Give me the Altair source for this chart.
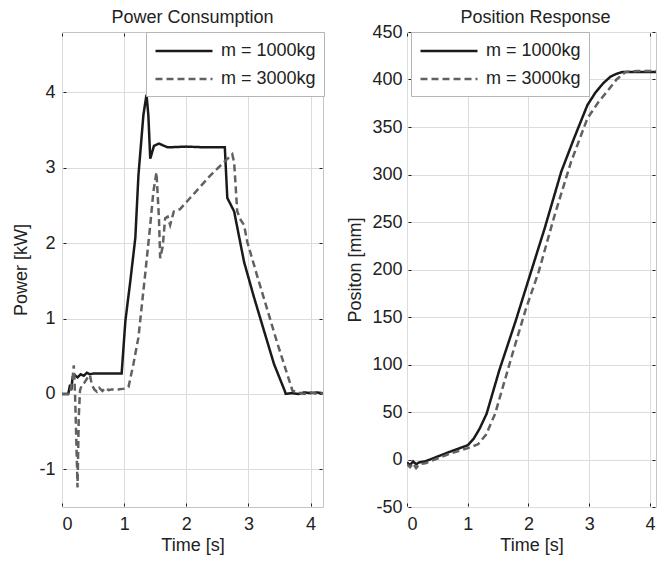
import altair as alt
import pandas as pd

# ---------------- data ----------------
p1_t = [0, 0.1, 0.13, 0.15, 0.17, 0.2, 0.25, 0.3, 0.35, 0.4, 0.45, 0.5, 0.96, 1.02, 1.1, 1.18,
        1.23, 1.31, 1.36, 1.39, 1.42, 1.48, 1.56, 1.7, 2.0, 2.3, 2.62, 2.66, 2.77, 2.93, 3.09,
        3.25, 3.41, 3.58, 3.6, 3.7, 3.8, 3.9, 4.0, 4.1, 4.2]
p1_v = [0, 0, 0.12, 0.05, 0.22, 0.25, 0.22, 0.26, 0.24, 0.28, 0.26, 0.27, 0.27, 0.97, 1.5, 2.07,
        2.9, 3.7, 3.97, 3.69, 3.12, 3.29, 3.32, 3.27, 3.28, 3.27, 3.27, 2.6, 2.42, 1.75, 1.28,
        0.84, 0.4, 0.05, 0.0, 0.01, 0.0, 0.02, 0.01, 0.02, 0.01]

p3_t = [0, 0.12, 0.15, 0.17, 0.19, 0.21, 0.23, 0.25, 0.27, 0.29, 0.32, 0.36, 0.4, 0.45, 0.48,
        0.52, 0.56, 0.6, 0.65, 0.7, 0.75, 0.8, 0.9, 1.0, 1.07, 1.15, 1.23, 1.34, 1.42, 1.47, 1.52,
        1.56, 1.58, 1.62, 1.66, 1.7, 1.74, 1.8, 1.9, 2.39, 2.74, 2.77, 2.82, 2.88, 2.93, 2.98,
        3.15, 3.47, 3.71, 3.8, 3.9, 4.0, 4.1, 4.2]
p3_v = [0, 0, 0.1, 0.2, 0.38, 0.0, -0.6, -1.24, -0.3, 0.05, 0.12, 0.15, 0.2, 0.25, 0.12,
        0.06, 0.03, 0.08, 0.04, 0.08, 0.05, 0.06, 0.06, 0.07, 0.09, 0.4, 0.75, 1.6, 2.24, 2.68, 2.94,
        2.33, 1.8, 1.95, 2.33, 2.35, 2.24, 2.42, 2.45, 2.9, 3.18, 3.07, 2.42, 2.3, 2.24, 2.02,
        1.54, 0.66, 0.04, 0.02, 0.0, 0.02, 0.0, 0.01]

x1_t = [0, 0.05, 0.1, 0.15, 0.2, 0.3, 0.5, 0.7, 1.0, 1.1, 1.2, 1.31, 1.52, 1.79, 2.0, 2.27,
        2.54, 2.75, 2.97, 3.1, 3.23, 3.35, 3.45, 3.55, 3.8, 4.0, 4.2]
x1_v = [-3, -6, -2, -5, -3, -2, 3, 8, 15, 22, 33, 48, 94, 146, 189, 244, 303, 338, 373, 386,
        396, 403, 406, 408, 408, 408, 408]

x3_t = [0, 0.05, 0.1, 0.15, 0.2, 0.3, 0.5, 0.7, 1.0, 1.17, 1.3, 1.45, 1.74, 1.95, 2.17, 2.43,
        2.7, 2.97, 3.15, 3.29, 3.45, 3.6, 3.8, 4.0, 4.2]
x3_v = [-5, -8, -4, -9, -5, -4, 1, 6, 12, 16, 26, 48, 112, 157, 198, 257, 313, 359, 376, 387,
        400, 408, 409, 409, 409]

series = ["m = 1000kg", "m = 3000kg"]
x_ticks = [0, 1, 2, 3, 4]
p_ticks = [-1, 0, 1, 2, 3, 4]
pos_ticks = [-50, 0, 50, 100, 150, 200, 250, 300, 350, 400, 450]

power = pd.concat([
    pd.DataFrame({"t": p1_t, "v": p1_v, "s": series[0], "o": range(len(p1_t))}),
    pd.DataFrame({"t": p3_t, "v": p3_v, "s": series[1], "o": range(len(p3_t))}),
])
pos = pd.concat([
    pd.DataFrame({"t": x1_t, "v": x1_v, "s": series[0], "o": range(len(x1_t))}),
    pd.DataFrame({"t": x3_t, "v": x3_v, "s": series[1], "o": range(len(x3_t))}),
])

FONT = "Liberation Sans"
FS = 18
H = 475
TICK = dict(ticks=True, tickSize=3, tickColor="#222", tickWidth=1, offset=-4)


def legend(x):
    return alt.Legend(title=None, orient="none", legendX=x, legendY=0,
                      symbolType="M-1,0L5,0", symbolSize=361,
                      symbolStrokeWidth=2.5, labelOffset=45, labelFontSize=FS,
                      labelFont=FONT, labelColor="#222", fillColor="white",
                      strokeColor="#b5b5b5", padding=8, rowPadding=8)


def panel(df, title, ytitle, ydom, yticks, xmax, width, leg, lab_pad, title_pad, toff, tdx):
    xs = alt.Scale(domain=[0, xmax], nice=False, zero=False)
    ys = alt.Scale(domain=ydom, nice=False, zero=False)
    base = alt.Chart(df)
    lines = base.mark_line(strokeWidth=2.5, clip=True).encode(
        x=alt.X("t:Q", title="Time [s]", scale=xs,
                axis=alt.Axis(values=x_ticks, labelExpr="'' + datum.value", labelPadding=9,
                              titlePadding=3, **TICK)),
        y=alt.Y("v:Q", title=ytitle, scale=ys,
                axis=alt.Axis(values=yticks, labelExpr="'' + datum.value",
                              labelPadding=lab_pad, titlePadding=title_pad, **TICK)),
        color=alt.Color("s:N", scale=alt.Scale(domain=series, range=["#1a1a1a", "#616161"]),
                        legend=leg),
        strokeDash=alt.StrokeDash("s:N", scale=alt.Scale(domain=series, range=[[1, 0], [7, 4]]),
                                  legend=leg),
        order="o:Q",
    )
    ticks_tr = base.mark_point(opacity=0, size=1, clip=True).encode(
        x=alt.X("t:Q", scale=xs, axis=alt.Axis(orient="top", values=x_ticks, labels=False,
                                               grid=False, title=None, **TICK)),
        y=alt.Y("v:Q", scale=ys, axis=alt.Axis(orient="right", values=yticks, labels=False,
                                               grid=False, title=None, **TICK)),
    )
    return alt.layer(lines, ticks_tr).resolve_axis(
        x="independent", y="independent"
    ).properties(width=width, height=H,
                 title=alt.TitleParams(title, fontSize=FS, fontWeight="normal", font=FONT,
                                       color="#222", offset=toff, dx=tdx))


left = panel(power, "Power Consumption", "Power [kW]", [-1.5, 4.8], p_ticks, 4.2, 261,
             legend(84), 8, 8, 5, 0)
right = panel(pos, "Position Response", "Positon [mm]", [-50, 450], pos_ticks, 4.1, 249,
              legend(4), 6, 7, -4, 4)

chart = alt.hconcat(left, right, spacing=21).resolve_legend(
    color="independent", strokeDash="independent"
).resolve_scale(color="independent", strokeDash="independent").properties(
    padding={"left": 4, "top": 0, "right": 0, "bottom": 0}
).configure_view(stroke="#c4c4c4", strokeWidth=1).configure_axis(
    domain=False, grid=True, gridColor="#dcdcdc", gridWidth=1,
    labelFont=FONT, labelFontSize=FS, labelColor="#222",
    titleFont=FONT, titleFontSize=FS, titleFontWeight="normal", titleColor="#222",
)

chart.save("out.html", embed_options={"renderer": "svg", "actions": False})
